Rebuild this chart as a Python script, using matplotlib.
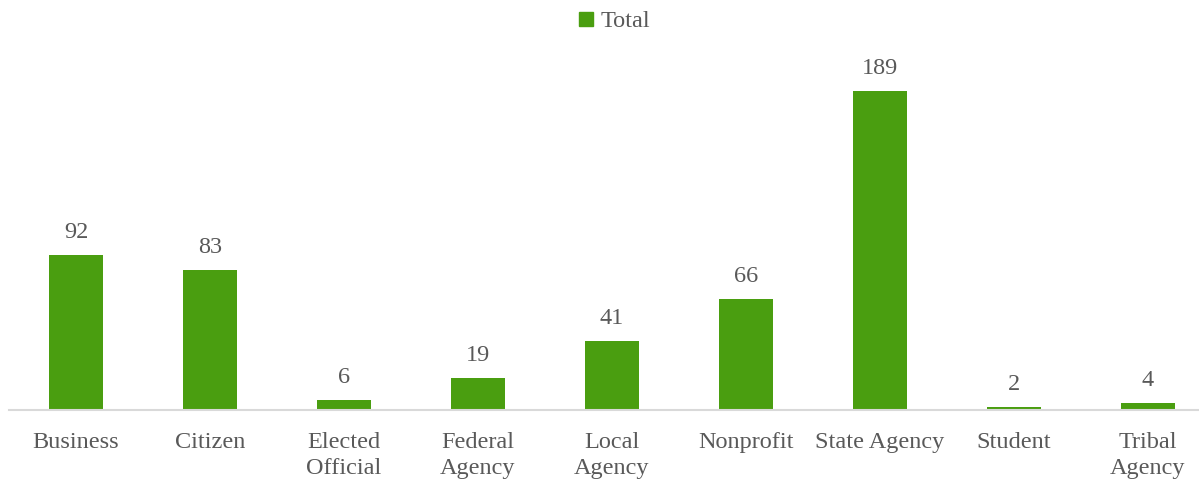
import matplotlib.pyplot as plt
from matplotlib.lines import Line2D

categories = ["Business", "Citizen", "Elected\nOfficial", "Federal\nAgency", "Local\nAgency",
              "Nonprofit", "State Agency", "Student", "Tribal\nAgency"]
totals = [92, 83, 6, 19, 41, 66, 189, 2, 4]

GREEN = "#4a9e10"
GRAY_TEXT = "#595959"

plt.rcParams["font.family"] = ["Liberation Serif", "DejaVu Serif"]

fig = plt.figure(figsize=(11.99, 4.79), dpi=100)
ax = fig.add_axes([9 / 1199, 1 - 410 / 479, 1 - 9 / 1199, (410 - 72.4) / 479])

x = list(range(len(categories)))
ax.bar(x, totals, width=0.4, color=GREEN, zorder=2)
for xi, v in zip(x, totals):
    ax.text(xi, v + 7, str(v), ha="center", va="bottom", fontsize=17.5, color=GRAY_TEXT)

ax.set_xlim(-0.5, (1199 - 76) / 134)
ax.set_ylim(0, 200)
ax.set_xticks(x)
ax.set_xticklabels(categories, fontsize=17.5, color=GRAY_TEXT, linespacing=1.28)
ax.tick_params(axis="x", length=0, pad=16)
ax.set_yticks([])
for side in ["top", "right", "left"]:
    ax.spines[side].set_visible(False)
ax.spines["bottom"].set_color("#d9d9d9")
ax.spines["bottom"].set_linewidth(1.5)

handle = Line2D([], [], marker="s", linestyle="", color=GREEN, markersize=10)
fig.legend([handle], ["Total"], loc="center", bbox_to_anchor=(612 / 1199, 1 - 21 / 479),
           frameon=False, fontsize=17.5, labelcolor=GRAY_TEXT, handletextpad=0.1, handlelength=1.0)

fig.savefig("out.png", dpi=100)
